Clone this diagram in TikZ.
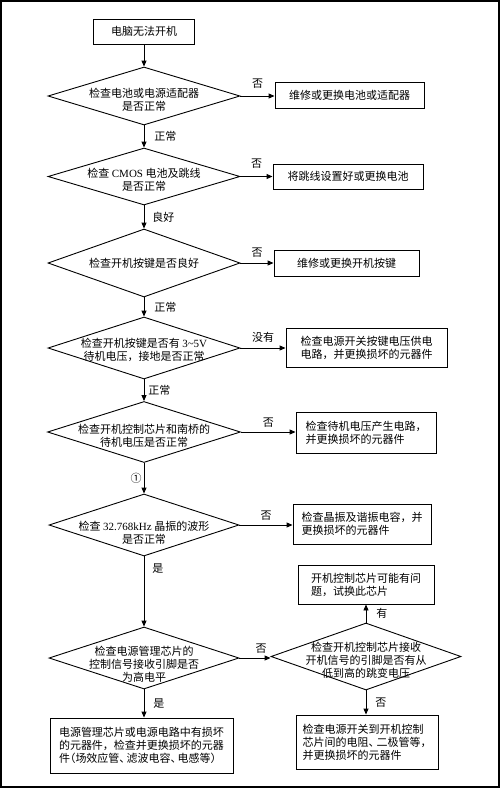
\documentclass[tikz,border=0pt]{standalone}
\usepackage{fontspec}
\setmainfont{Liberation Serif}
\newfontfamily\cjk{Noto Sans CJK SC}
\usetikzlibrary{shapes.geometric,arrows.meta}
\newcommand{\lat}[1]{{\rmfamily #1}}
\begin{document}
\begin{tikzpicture}[x=1pt,y=-1pt,
  every node/.style={font=\cjk\fontsize{11pt}{13pt}\selectfont},
  dia/.style={draw, shape=diamond, inner sep=0pt, line width=0.9pt},
  box/.style={draw, rectangle, inner sep=0pt, line width=0.9pt, align=left},
  txt/.style={align=center, inner sep=0pt},
  arr/.style={-{Triangle[length=6pt,width=5pt]}, line width=0.9pt},
  lbl/.style={inner sep=0pt}]
\useasboundingbox (0,0) rectangle (500,788);
\draw[line width=1.5pt] (1,1) rectangle (499,787);

% main column
\node[box, minimum width=101pt, minimum height=25pt] (b0) at (144,31.5) {电脑无法开机};

\node[dia, minimum width=192pt, minimum height=58pt] (d1) at (144,96) {};
\node[txt] (t1) at (144,99.5) {检查电池或电源适配器\\是否正常};

\node[dia, minimum width=192pt, minimum height=57pt] (d2) at (144,176.5) {};
\node[txt] (t2) at (144,180) {检查 \lat{CMOS} 电池及跳线\\是否正常};

\node[dia, minimum width=192pt, minimum height=68pt] (d3) at (144,263) {};
\node[txt] (t3) at (144,263) {检查开机按键是否良好};

\node[dia, minimum width=192pt, minimum height=62pt] (d4) at (144,348) {};
\node[txt] (t4) at (144,349.5) {检查开机按键是否有 \lat{3\textasciitilde 5V}\\待机电压，接地是否正常};

\node[dia, minimum width=193pt, minimum height=61pt] (d5) at (144,432) {};
\node[txt] (t5) at (144,435.5) {检查开机控制芯片和南桥的\\待机电压是否正常};

\node[dia, minimum width=190pt, minimum height=62pt] (d6) at (144,525) {};
\node[txt] (t6) at (144,532.5) {检查 \lat{32.768kHz} 晶振的波形\\是否正常};

\node[dia, minimum width=190pt, minimum height=62pt] (d7) at (144,658) {};
\node[txt] (t7) at (144,664) {检查电源管理芯片的\\控制信号接收引脚是否\\为高电平};

\node[box, minimum width=183pt, minimum height=55pt] (b8) at (141.5,745.5)
  {电源管理芯片或电源电路中有损坏\\的元器件，检查并更换损坏的元器\\件\kern-5.5pt（场效应管、\kern-4pt滤波电容、\kern-4pt电感等）\kern-5.5pt};

% right column
\node[box, minimum width=149pt, minimum height=26pt] (b1) at (349.5,95) {维修或更换电池或适配器};
\node[box, minimum width=150pt, minimum height=25pt] (b2) at (348,176.5) {将跳线设置好或更换电池};
\node[box, minimum width=145pt, minimum height=26pt] (b3) at (346.5,263) {维修或更换开机按键};
\node[box, minimum width=161pt, minimum height=39pt] (b4) at (366.5,347.5) {检查电源开关按键电压供电\\电路，并更换损坏的元器件};
\node[box, minimum width=140pt, minimum height=41pt] (b5) at (366,432.5) {检查待机电压产生电路，\\并更换损坏的元器件};
\node[box, minimum width=138pt, minimum height=40pt] (b6) at (362,524) {检查晶振及谐振电容，并\\更换损坏的元器件};
\node[box, minimum width=136pt, minimum height=39pt] (b7) at (366,584.5) {开机控制芯片可能有问\\题，试换此芯片};

\node[dia, minimum width=190pt, minimum height=67pt] (d8) at (366,656.5) {};
\node[txt] (t8) at (366,660) {检查开机控制芯片接收\\开机信号的引脚是否有从\\低到高的跳变电压};

\node[box, minimum width=142pt, minimum height=54pt] (b9) at (367,742) {检查电源开关到开机控制\\芯片间的电阻、\kern-3pt二极管等，\\并更换损坏的元器件};

% vertical connectors
\draw[arr] (b0.south) -- (d1.north);
\draw[arr] (d1.south) -- (d2.north) node[lbl, midway, right=10pt] {正常};
\draw[arr] (d2.south) -- (d3.north) node[lbl, midway, right=8pt] {良好};
\draw[arr] (d3.south) -- (d4.north) node[lbl, midway, right=10pt] {正常};
\draw[arr] (d4.south) -- (d5.north) node[lbl, midway, right=4pt] {正常};
\draw[arr] (d5.south) -- (d6.north) node[lbl, midway, left=2pt] {①};
\draw[arr] (d6.south) -- (d7.north) node[lbl, pos=0.17, right=8pt] {是};
\draw[arr] (d7.south) -- (d7.south |- b8.north) node[lbl, midway, right=9pt] {是};
\draw[arr] (d8.north) -- (b7.south) node[lbl, midway, right=10pt] {有};
\draw[arr] (d8.south) -- (d8.south |- b9.north) node[lbl, midway, right=9pt] {否};

% horizontal connectors
\draw[arr] (d1.east) -- (d1.east -| b1.west) node[lbl, midway, above=7pt] {否};
\draw[arr] (d2.east) -- (d2.east -| b2.west) node[lbl, midway, above=8pt] {否};
\draw[arr] (d3.east) -- (d3.east -| b3.west) node[lbl, midway, above=5pt] {否};
\draw[arr] (d4.east) -- (d4.east -| b4.west) node[lbl, midway, above=5pt] {没有};
\draw[arr] (d5.east) -- (d5.east -| b5.west) node[lbl, midway, above=4pt] {否};
\draw[arr] (d6.east) -- (d6.east -| b6.west) node[lbl, midway, above=4pt] {否};
\draw[arr] (d7.east) -- (d7.east -| d8.west) node[lbl, pos=0.7, above=4pt] {否};
\end{tikzpicture}
\end{document}
